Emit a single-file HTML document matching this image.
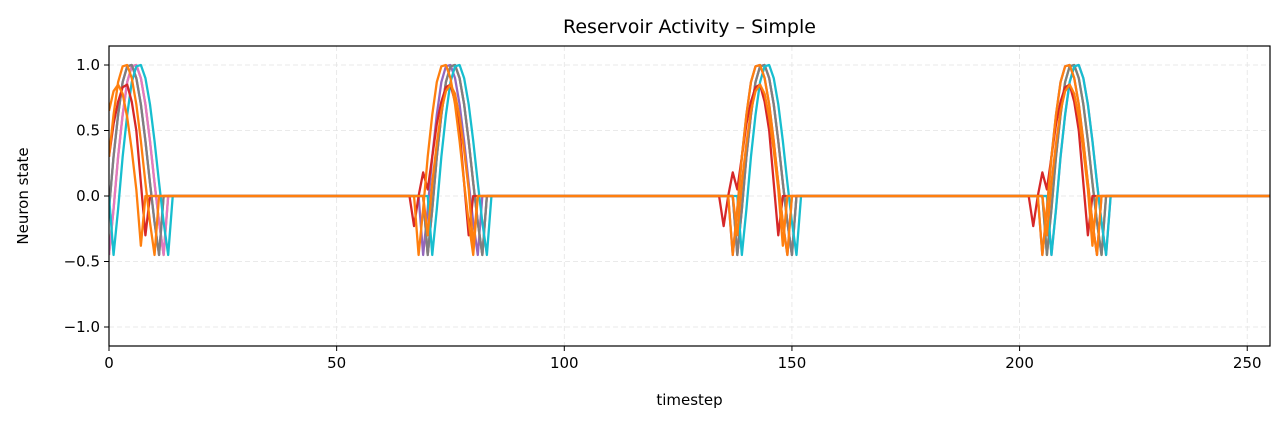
<!DOCTYPE html>
<html><head><meta charset="utf-8"><style>
body{margin:0;background:#fff;font-family:"DejaVu Sans","Liberation Sans",sans-serif}
</style></head><body>
<svg id="c" width="1286" height="424" xmlns="http://www.w3.org/2000/svg"></svg>
<script>
const xTicks=[0,50,100,150,200,250];
const yTicks=[-1.0,-0.5,0.0,0.5,1.0];
const yTickLabels=["\u22121.0","\u22120.5","0.0","0.5","1.0"];
const nSteps=256;
// burst shapes (values per timestep)
const shapeFull=[-0.45,-0.1,0.3,0.62,0.87,0.99,1.0,0.9,0.7,0.42,0.1,-0.2,-0.45];
const shapeRed=[-0.23,0.0,0.18,0.05,0.3,0.55,0.72,0.83,0.85,0.72,0.5,0.1,-0.3];
const shapeOrange2=[-0.3,0.1,0.4,0.65,0.8,0.85,0.78,0.6,0.35,0.05,-0.38];
const seriesNames=["purple","olive","pink","gray","cyan","red","orange-low","orange"];
const seriesColors=["#9467bd","#bcbd22","#e377c2","#7f7f7f","#17becf","#d62728","#ff7f0e","#ff7f0e"];
const seriesShapes=[shapeFull,shapeFull,shapeFull,shapeFull,shapeFull,shapeRed,shapeOrange2,shapeFull];
const seriesOnsets=[[-1,69,137,205],[0,70,138,206],[0,70,138,207],[-1,70,138,206],[1,71,139,207],[-4,67,135,203],[-3,70,138,206],[-2,68,137,205]];

const L=109,R=1270,T=46,B=346,xmin=0,xmax=255,ymin=-1.145,ymax=1.145;
const X=v=>L+(v-xmin)/(xmax-xmin)*(R-L);
const Y=v=>B-(v-ymin)/(ymax-ymin)*(B-T);
const svg=document.getElementById('c');const NS="http://www.w3.org/2000/svg";
function mk(t,a,p){const e=document.createElementNS(NS,t);for(const k in a)e.setAttribute(k,a[k]);(p||svg).appendChild(e);return e;}
xTicks.forEach(t=>{const g=mk('line',{x1:X(t),x2:X(t),y1:T,y2:B,stroke:'#e3e3e3','stroke-dasharray':'5,3','stroke-width':0.8});

});
yTicks.forEach(t=>{const g=mk('line',{x1:L,x2:R,y1:Y(t),y2:Y(t),stroke:'#e3e3e3','stroke-dasharray':'5,3','stroke-width':0.8});

});
const clip=mk('clipPath',{id:'pc'});mk('rect',{x:L,y:T,width:R-L,height:B-T},clip);
seriesNames.forEach((n,i)=>{
 const vals=new Array(nSteps).fill(0);
 seriesOnsets[i].forEach(o=>{seriesShapes[i].forEach((v,k)=>{const t=o+k;if(t>=0&&t<nSteps)vals[t]=v;});});
 const d=vals.map((v,t)=>(t?'L':'M')+X(t).toFixed(2)+','+Y(v).toFixed(2)).join('');
 const p=mk('path',{d:d,fill:'none',stroke:seriesColors[i],'stroke-width':2.3,'clip-path':'url(#pc)','stroke-linejoin':'round'});
 
 
});
const fr=mk('rect',{x:L,y:T,width:R-L,height:B-T,fill:'none',stroke:'#000','stroke-width':1.2});


xTicks.forEach(t=>{mk('line',{x1:X(t),x2:X(t),y1:B,y2:B+5,stroke:'#000'});
 const tx=mk('text',{x:X(t),y:B+22,'text-anchor':'middle','font-size':15});tx.textContent=t;
 
 });
yTicks.forEach((t,i)=>{mk('line',{x1:L-5,x2:L,y1:Y(t),y2:Y(t),stroke:'#000'});
 const tx=mk('text',{x:L-9,y:Y(t)+5,'text-anchor':'end','font-size':15});tx.textContent=yTickLabels[i];
 
 });
let e=mk('text',{x:(L+R)/2,y:33,'text-anchor':'middle','font-size':19});e.textContent="Reservoir Activity \u2013 Simple";


e=mk('text',{x:(L+R)/2,y:405,'text-anchor':'middle','font-size':15});e.textContent="timestep";


e=mk('text',{x:28,y:196,'text-anchor':'middle','font-size':15,transform:'rotate(-90 28 196)'});e.textContent="Neuron state";


</script>
</body></html>
